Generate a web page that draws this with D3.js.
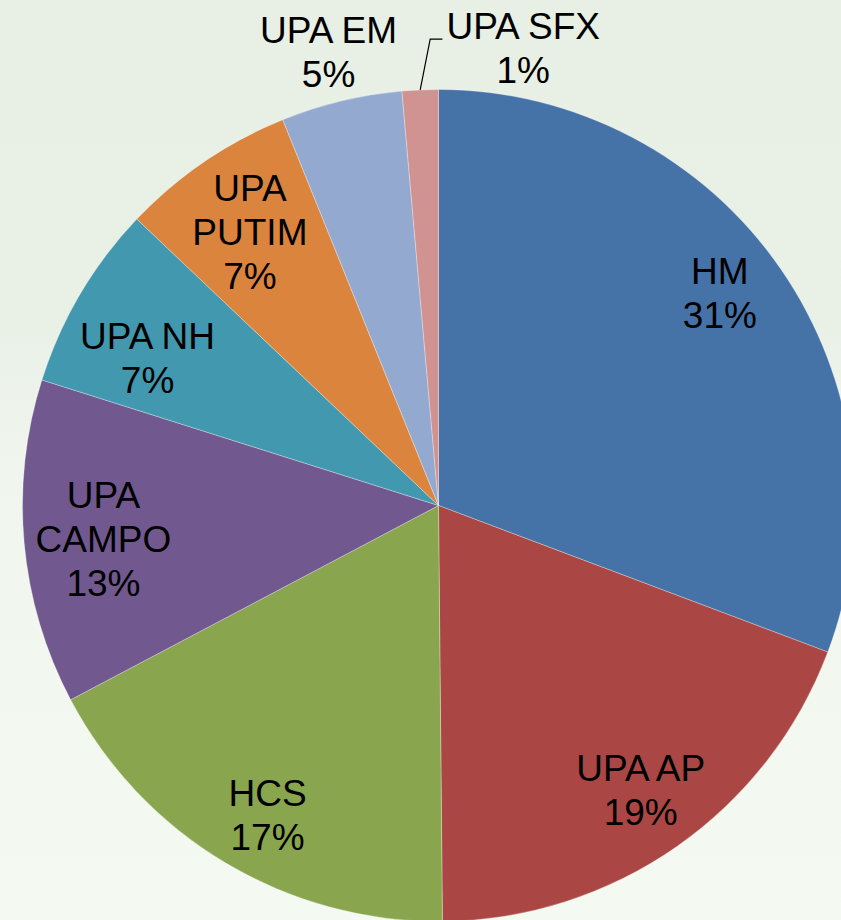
<!DOCTYPE html>
<html>
<head>
<meta charset="utf-8">
<script src="https://cdn.jsdelivr.net/npm/d3@7"></script>
<style>
  html, body { margin: 0; padding: 0; overflow: hidden; }
  text { font-family: "Liberation Sans", Arial, sans-serif; fill: #000; }
</style>
</head>
<body>
<div id="chart"></div>
<script>
// slices, clockwise from 12 o'clock
const categories = ['HM', 'UPA AP', 'HCS', 'UPA CAMPO', 'UPA NH', 'UPA PUTIM', 'UPA EM', 'UPA SFX']
const values = [30.7, 19.1, 17.4, 12.6, 7.2, 6.8, 4.7, 1.4]
const colors = ['#4572a7', '#aa4643', '#89a54e', '#71588f', '#4198af', '#db843d', '#93a9cf', '#d19392']

// label lines (category name wraps like excel does)
const labelLines = [['HM'], ['UPA AP'], ['HCS'], ['UPA', 'CAMPO'], ['UPA NH'], ['UPA', 'PUTIM'], ['UPA EM'], ['UPA SFX']]

const width = 841, height = 920
const cx = 438.5, cy = 505.5, R = 416
const fontSize = 37, lineH = 44

// excel "best fit" moves labels a bit off the centroid, hand tuned
const nudge = {
  'HM': [-6, -14], 'UPA AP': [2, -2], 'HCS': [8, 9], 'UPA CAMPO': [13, 2],
  'UPA NH': [10, 30], 'UPA PUTIM': [8, 15], 'UPA EM': [-3, -9], 'UPA SFX': [0, 3]
}

const svg = d3.select('#chart').append('svg')
  .attr('width', width)
  .attr('height', height)

// background, pale green fading down
const grad = svg.append('defs').append('linearGradient')
  .attr('id', 'bg').attr('x1', 0).attr('y1', 0).attr('x2', 0).attr('y2', 1)
grad.append('stop').attr('offset', '0%').attr('stop-color', '#e8f0e6')
grad.append('stop').attr('offset', '35%').attr('stop-color', '#e9f1e7')
grad.append('stop').attr('offset', '50%').attr('stop-color', '#f0f5ee')
grad.append('stop').attr('offset', '100%').attr('stop-color', '#f4f9f2')
svg.append('rect').attr('width', width).attr('height', height).attr('fill', 'url(#bg)')

const total = d3.sum(values)
const data = categories.map((c, i) => ({ name: c, value: values[i], color: colors[i], lines: labelLines[i] }))

const pie = d3.pie().value(d => d.value).sort(null)
const arcs = pie(data)
const arc = d3.arc().innerRadius(0).outerRadius(R)

const g = svg.append('g').attr('transform', `translate(${cx},${cy})`)

g.selectAll('path.slice')
  .data(arcs)
  .enter().append('path')
  .attr('class', 'slice')
  .attr('d', arc)
  .attr('fill', d => d.data.color)
  .attr('stroke', '#ffffff')
  .attr('stroke-opacity', 0.5)
  .attr('stroke-width', 0.6)

// inside labels sit near the rim, small slices go outside
const inArc = d3.arc().innerRadius(R * 0.84).outerRadius(R * 0.84)
const outArc = d3.arc().innerRadius(R * 1.1).outerRadius(R * 1.1)
const rimArc = d3.arc().innerRadius(R).outerRadius(R)

function labelPos(d) {
  let p
  if (d.data.name === 'UPA SFX') {
    // pushed right, with a leader line
    const r = rimArc.centroid(d)
    p = [r[0] + 103, -R * 1.1 - 3]
  } else if (d.value / total < 0.06) {
    p = outArc.centroid(d)
  } else {
    p = inArc.centroid(d)
  }
  const n = nudge[d.data.name] || [0, 0]
  return [p[0] + n[0], p[1] + n[1]]
}

const labels = g.selectAll('g.label')
  .data(arcs)
  .enter().append('g')
  .attr('class', 'label')
  .attr('transform', d => 'translate(' + labelPos(d) + ')')

labels.each(function(d) {
  const lines = d.data.lines.concat([Math.round(d.value / total * 100) + '%'])
  const n = lines.length
  const t = d3.select(this).append('text')
    .attr('text-anchor', 'middle')
    .attr('font-size', fontSize)
  lines.forEach((l, k) => {
    t.append('tspan')
      .attr('x', 0)
      .attr('y', (k - (n - 1) / 2) * lineH + fontSize * 0.36)
      .text(l)
  })
})

// leader line for the tiny slice, from the rim to the first line's baseline
const sfx = arcs.find(d => d.data.name === 'UPA SFX')
const p0 = rimArc.centroid(sfx)
const sfxBox = labels.filter(d => d.data.name === 'UPA SFX').select('text').node().getBBox()
const lp = labelPos(sfx)
const ly = lp[1] - lineH / 2 + fontSize * 0.36
g.append('path')
  .attr('d', d3.line()([[p0[0], p0[1]], [p0[0] + 10, ly], [lp[0] + sfxBox.x - 4, ly]]))
  .attr('fill', 'none')
  .attr('stroke', '#000')
  .attr('stroke-width', 1.2)
</script>
</body>
</html>
